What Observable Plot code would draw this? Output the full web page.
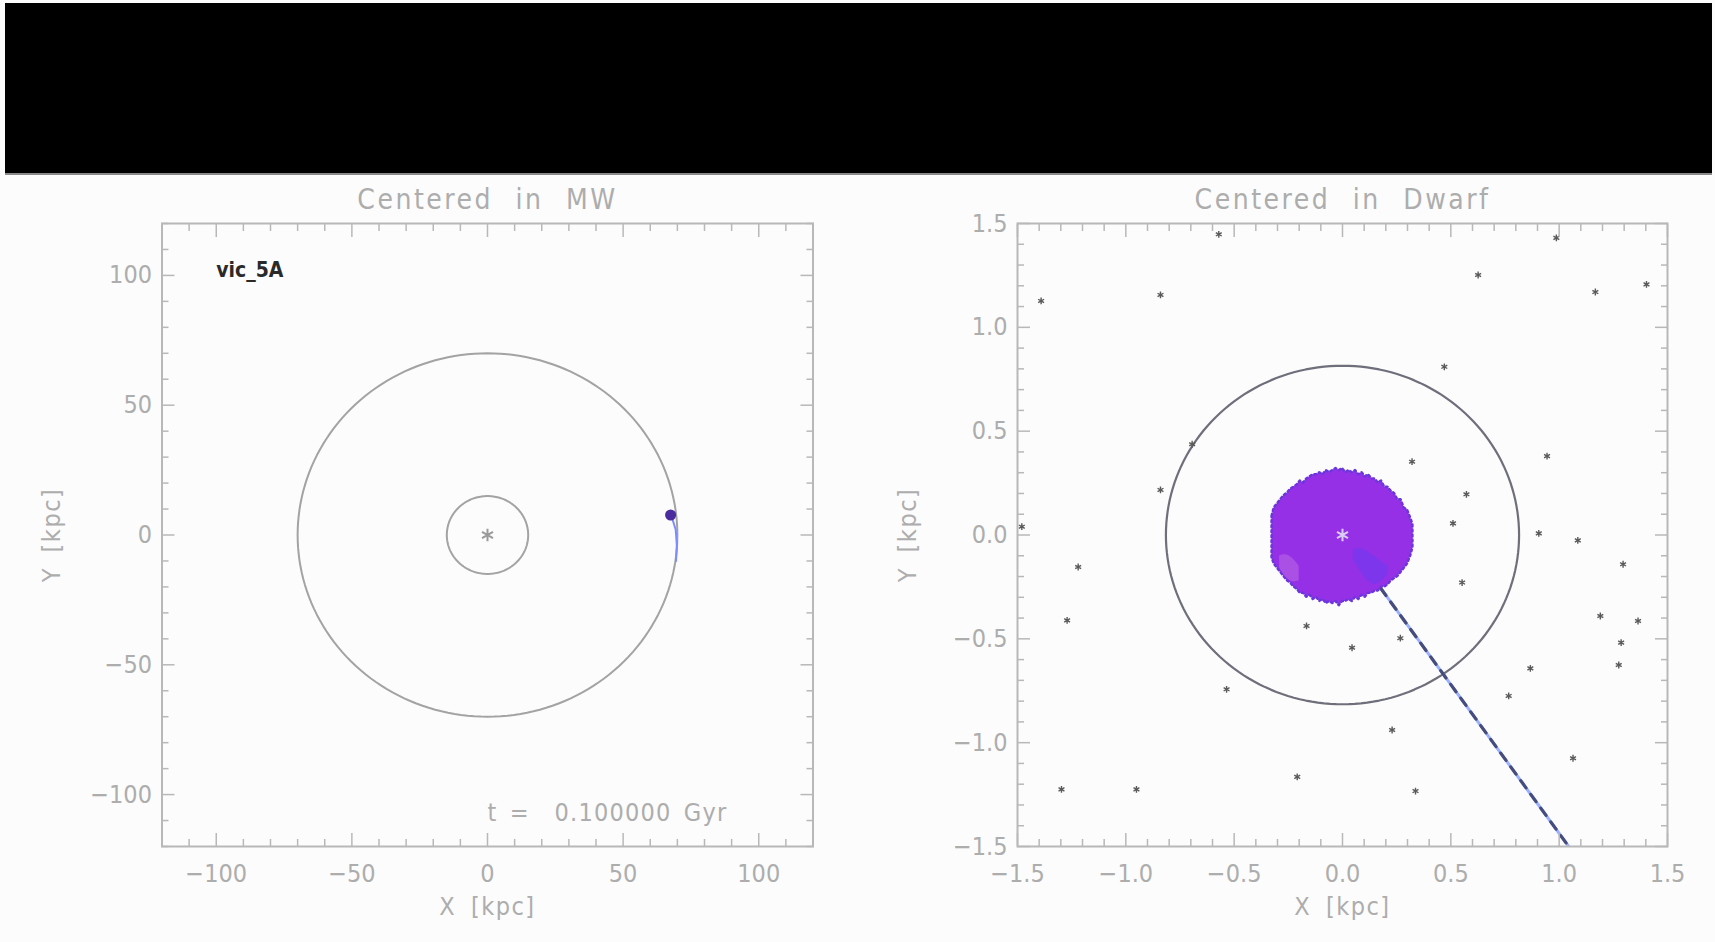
<!DOCTYPE html>
<html><head><meta charset="utf-8">
<script src="https://cdn.jsdelivr.net/npm/d3@7"></script>
<script src="https://cdn.jsdelivr.net/npm/@observablehq/plot@0.6"></script>
<style>
html,body{margin:0;padding:0;background:#fcfcfc;width:1715px;height:942px;overflow:hidden;}
#band{position:absolute;left:5px;top:3px;width:1707px;height:170px;background:#000;border-bottom:2px solid #8a8a8a;}
#left{position:absolute;left:0;top:175px;}
#right{position:absolute;left:860px;top:175px;}
</style></head><body>
<div id="band"></div><div id="left"></div><div id="right"></div>
<script>
// ---------- data: left panel (centered in MW) ----------
const mwTitle = "Centered in MW";
const mwMajorTicks = [-100, -50, 0, 50, 100];
const mwMinorTicks = d3.range(-120, 121, 10).filter(v => v % 50 !== 0);
const mwCircleRadii = [70, 15];           // kpc
const mwDwarf = [{x: 67.5, y: 7.7}];      // dwarf position
const mwTrailX = [67.6, 69.4, 69.8, 69.5];
const mwTrailY = [8, 2, -4, -10];
const mwLabels = [{x: -100, y: 102, text: "vic_5A"}];
const mwTime = [{x: 0, y: -107, text: "t =\u00a0 0.100000 Gyr"}];

// ---------- data: right panel (centered in dwarf) ----------
const dwTitle = "Centered in Dwarf";
const dwMajorTicks = [-1.5, -1.0, -0.5, 0.0, 0.5, 1.0, 1.5];
const dwMinorTicks = d3.range(-15, 16, 1).filter(v => v % 5 !== 0).map(v => v / 10);
const dwCircleRadius = [0.815];
const starsX = [-0.571,-0.840,-1.391,-0.694,-0.840,-1.48,0.987,0.626,1.167,1.403,0.470,0.321,0.944,0.572,0.510,0.906,1.086,1.295,0.552,1.190,1.364,1.286,1.275,0.267,0.044,0.867,0.767,0.229,1.064,0.337,-1.220,-1.271,-0.166,-0.535,-0.209,-1.297,-0.951];
const starsY = [1.448,1.156,1.127,0.437,0.217,0.04,1.431,1.252,1.170,1.207,0.810,0.353,0.380,0.196,0.056,0.008,-0.026,-0.141,-0.229,-0.390,-0.414,-0.518,-0.626,-0.497,-0.543,-0.642,-0.775,-0.939,-1.075,-1.233,-0.154,-0.411,-0.438,-0.743,-1.165,-1.225,-1.225];
const blobX   = [-0.325,-0.315,-0.30,-0.285,-0.27,-0.255,-0.24,-0.225,-0.21,-0.195,-0.18,-0.165,-0.15,-0.135,-0.12,-0.105,-0.09,-0.075,-0.06,-0.045,-0.03,-0.015,0,0.015,0.03,0.045,0.06,0.075,0.09,0.105,0.12,0.135,0.15,0.165,0.18,0.195,0.21,0.225,0.24,0.255,0.27,0.285,0.30,0.315,0.325];
const blobTop = [0.09,0.13,0.15,0.17,0.19,0.20,0.22,0.23,0.24,0.26,0.25,0.27,0.28,0.29,0.29,0.30,0.29,0.31,0.30,0.31,0.32,0.31,0.32,0.30,0.31,0.30,0.31,0.29,0.30,0.28,0.29,0.27,0.27,0.25,0.26,0.23,0.23,0.21,0.20,0.17,0.17,0.13,0.12,0.08,0.05];
const blobBot = [-0.11,-0.14,-0.16,-0.18,-0.20,-0.22,-0.23,-0.25,-0.26,-0.28,-0.28,-0.30,-0.29,-0.31,-0.30,-0.32,-0.31,-0.33,-0.32,-0.33,-0.32,-0.34,-0.32,-0.32,-0.31,-0.32,-0.30,-0.31,-0.29,-0.30,-0.28,-0.28,-0.27,-0.27,-0.25,-0.25,-0.24,-0.22,-0.21,-0.20,-0.18,-0.16,-0.14,-0.10,-0.06];
const bluePatchX = [0.05,0.09,0.13,0.17,0.21];
const bluePatchTop = [-0.07,-0.06,-0.09,-0.12,-0.15];
const bluePatchBot = [-0.12,-0.19,-0.24,-0.24,-0.19];
const pinkPatchX = [-0.29,-0.26,-0.23,-0.20];
const pinkPatchTop = [-0.10,-0.09,-0.11,-0.15];
const pinkPatchBot = [-0.16,-0.21,-0.23,-0.22];
const dwTrailX = [0.13, 1.044];
const dwTrailY = [-0.19, -1.5];

const FONT = "'Liberation Sans Narrow','DejaVu Sans Condensed','DejaVu Sans',sans-serif";
const GRAY = "#adadad";

function frameAxes(major, minor, fmt, pad) {
  const blank = () => "";
  const m = [];
  for (const a of ["bottom", "top"]) {
    m.push(Plot.axisX(minor, {anchor: a, tickSize: -7, tickFormat: blank, label: null, stroke: "#b8b8b8", strokeWidth: 1.5}));
    m.push(Plot.axisX(major, {anchor: a, tickSize: -13, tickFormat: blank, label: null, stroke: "#b8b8b8", strokeWidth: 1.5}));
  }
  for (const a of ["left", "right"]) {
    m.push(Plot.axisY(minor, {anchor: a, tickSize: -7, tickFormat: blank, label: null, stroke: "#b8b8b8", strokeWidth: 1.5}));
    m.push(Plot.axisY(major, {anchor: a, tickSize: -13, tickFormat: blank, label: null, stroke: "#b8b8b8", strokeWidth: 1.5}));
  }
  m.push(Plot.axisX(major, {anchor: "bottom", tickSize: 0, tickPadding: 18, tickFormat: fmt, label: null, fontSize: 25, fill: GRAY}));
  m.push(Plot.axisY(major, {anchor: "left", tickSize: 0, tickPadding: pad, tickFormat: fmt, label: null, fontSize: 25, fill: GRAY}));
  return m;
}
function circlePts(r, cx = 0, cy = 0) {
  return d3.range(0, 361, 2).map(a => ({x: cx + r * Math.cos(a * Math.PI / 180), y: cy + r * Math.sin(a * Math.PI / 180)}));
}
function titles(title) {
  return [
    Plot.text([title], {text: d => d, frameAnchor: "top", dy: -34, fontSize: 28, fill: GRAY}),
    Plot.text(["X [kpc]"], {text: d => d, frameAnchor: "bottom", dy: 68, fontSize: 25, fill: GRAY}),
    Plot.text(["Y [kpc]"], {text: d => d, frameAnchor: "left", textAnchor: "middle", lineAnchor: "middle", dx: -110, rotate: -90, fontSize: 25, fill: GRAY})
  ];
}
function spaceOut(svg, title) {
  const all = d3.select(svg).selectAll("text");
  all.filter(function() { return this.textContent === title; })
     .attr("letter-spacing", "2.5").attr("word-spacing", "12");
  all.filter(function() { return /\[kpc\]/.test(this.textContent); })
     .attr("letter-spacing", "1.5").attr("word-spacing", "6");
  all.filter(function() { return /Gyr/.test(this.textContent); })
     .attr("letter-spacing", "1.2").attr("word-spacing", "4");
}

const leftPlot = Plot.plot({
  width: 860, height: 767,
  marginLeft: 161.5, marginRight: 47.5, marginTop: 48, marginBottom: 96,
  x: {domain: [-120, 120]}, y: {domain: [-120, 120]},
  style: {background: "transparent", fontFamily: FONT, overflow: "visible"},
  marks: [
    ...mwCircleRadii.map(r => Plot.line(circlePts(r), {x: "x", y: "y", stroke: "#a3a3a3", strokeWidth: 2})),
    Plot.line(mwTrailX.map((x, i) => ({x, y: mwTrailY[i]})), {x: "x", y: "y", stroke: "#7b8cff", strokeWidth: 2}),
    Plot.dot(mwDwarf, {x: "x", y: "y", r: 5.5, fill: "#4a2c9e"}),
    Plot.dot([{x: 0, y: 0}], {x: "x", y: "y", symbol: "asterisk", r: 6, stroke: "#9a9a9a", strokeWidth: 2}),
    Plot.text(mwLabels, {x: "x", y: "y", text: "text", textAnchor: "start", fontSize: 21, fill: "#2a2a2a", fontWeight: 600}),
    Plot.text(mwTime, {x: "x", y: "y", text: "text", textAnchor: "start", fontSize: 25, fill: GRAY}),
    Plot.frame({stroke: "#b8b8b8", strokeWidth: 2}),
    ...frameAxes(mwMajorTicks, mwMinorTicks, d3.format("d"), 10),
    ...titles(mwTitle)
  ]
});
spaceOut(leftPlot, mwTitle);
document.getElementById("left").append(leftPlot);

const stars = starsX.map((x, i) => ({x, y: starsY[i]}));
const rightPlot = Plot.plot({
  width: 855, height: 767,
  marginLeft: 157, marginRight: 48, marginTop: 48, marginBottom: 96,
  x: {domain: [-1.5, 1.5]}, y: {domain: [-1.5, 1.5]},
  style: {background: "transparent", fontFamily: FONT, overflow: "visible"},
  marks: [
    Plot.line(circlePts(dwCircleRadius[0]), {x: "x", y: "y", stroke: "#6f6f7c", strokeWidth: 2.2}),
    Plot.line(dwTrailX.map((x, i) => ({x, y: dwTrailY[i]})), {x: "x", y: "y", stroke: "#9bb0ff", strokeWidth: 3, clip: true}),
    Plot.line(dwTrailX.map((x, i) => ({x, y: dwTrailY[i]})), {x: "x", y: "y", stroke: "#464c7c", strokeWidth: 3.2, strokeDasharray: "9,8", clip: true}),
    Plot.areaY(blobX.map((x, i) => ({x, y1: blobBot[i], y2: blobTop[i]})), {x: "x", y1: "y1", y2: "y2", fill: "#9630e6", stroke: "#6c36dc", strokeWidth: 2.5, strokeDasharray: "2,3"}),
    Plot.areaY(bluePatchX.map((x, i) => ({x, y1: bluePatchBot[i], y2: bluePatchTop[i]})), {x: "x", y1: "y1", y2: "y2", fill: "#6a3cf0", fillOpacity: 0.55, curve: "basis"}),
    Plot.areaY(pinkPatchX.map((x, i) => ({x, y1: pinkPatchBot[i], y2: pinkPatchTop[i]})), {x: "x", y1: "y1", y2: "y2", fill: "#b866e2", fillOpacity: 0.6, curve: "basis"}),
    Plot.dot([{x: 0, y: 0}], {x: "x", y: "y", symbol: "asterisk", r: 6, stroke: "#d9cdf5", strokeWidth: 2}),
    Plot.dot(stars, {x: "x", y: "y", symbol: "asterisk", r: 3.2, stroke: "#5a5a5a", strokeWidth: 1.4}),
    Plot.frame({stroke: "#b8b8b8", strokeWidth: 2}),
    ...frameAxes(dwMajorTicks, dwMinorTicks, d3.format(".1f"), 10),
    ...titles(dwTitle)
  ]
});
spaceOut(rightPlot, dwTitle);
document.getElementById("right").append(rightPlot);
</script></body></html>
